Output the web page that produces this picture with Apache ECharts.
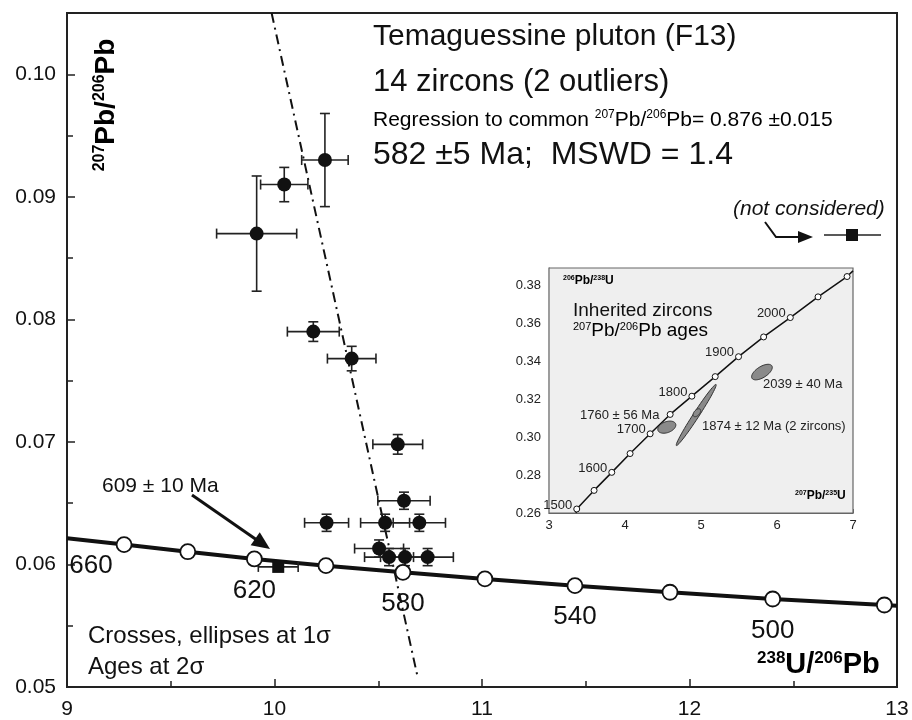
<!DOCTYPE html>
<html>
<head>
<meta charset="utf-8">
<script src="https://cdn.jsdelivr.net/npm/echarts@6/dist/echarts.min.js"></script>
<style>
  html, body { margin: 0; padding: 0; background: #fff; }
  #chart { width: 912px; height: 720px; }
</style>
</head>
<body>
<div id="chart"></div>
<script>
const FONT = '"Liberation Sans", Arial, Helvetica, sans-serif'
const INK = '#111'

// ---- main plot: 238U/206Pb vs 207Pb/206Pb (Tera-Wasserburg) ----
const zirconX    = [9.914, 10.047, 10.243, 10.187, 10.372, 10.594, 10.624, 10.251, 10.533, 10.698, 10.504, 10.552, 10.629, 10.738]
const zirconXErr = [0.193, 0.114, 0.112, 0.125, 0.117, 0.120, 0.126, 0.106, 0.118, 0.126, 0.118, 0.118, 0.118, 0.124]
const zirconY    = [0.0870, 0.0910, 0.0930, 0.0790, 0.0768, 0.0698, 0.0652, 0.0634, 0.0634, 0.0634, 0.0613, 0.0606, 0.0606, 0.0606]
const zirconYErr = [0.0047, 0.0014, 0.0038, 0.0008, 0.0010, 0.0008, 0.0007, 0.0007, 0.0007, 0.0007, 0.0007, 0.0007, 0.0007, 0.0007]

// the 609 ± 10 Ma grain (not considered)
const outlierX    = [10.018]
const outlierXErr = [0.096]
const outlierY    = [0.0598]

// concordia nodes (Ma) and where the curve meets the frame
const concordiaAges = [660, 640, 620, 600, 580, 560, 540, 520, 500, 480]
const concordiaX    = [9.275, 9.582, 9.903, 10.248, 10.619, 11.014, 11.448, 11.906, 12.401, 12.939]
const concordiaY    = [0.06162, 0.06104, 0.06045, 0.05990, 0.05936, 0.05882, 0.05827, 0.05773, 0.05718, 0.05669]
const concordiaEnds = [[9.0, 0.06214], [13.0, 0.05664]]
const labeledAges   = [660, 620, 580, 540, 500]

// regression to common Pb (dash-dot)
const regressionLine = [[9.986, 0.105], [10.69, 0.0508]]

// ---- inset: Wetherill concordia, inherited zircons ----
const insetAges  = [1500, 1550, 1600, 1650, 1700, 1750, 1800, 1850, 1900, 1950, 2000, 2050, 2100]
const insetX     = [3.365, 3.593, 3.826, 4.067, 4.331, 4.594, 4.880, 5.187, 5.494, 5.824, 6.175, 6.540, 6.922]
const insetY     = [0.2621, 0.2719, 0.2814, 0.2913, 0.3017, 0.3119, 0.3215, 0.3318, 0.3423, 0.3527, 0.3629, 0.3738, 0.3845]
const insetEnds  = [[3.356, 0.2600], [7.0, 0.3875]]
const insetLabeled = [1500, 1600, 1700, 1800, 1900, 2000]

// error ellipses: centre, 1-sigma x / y, correlation
const ellipseCx  = [4.55, 4.937, 4.946, 5.802]
const ellipseCy  = [0.3052, 0.3116, 0.3128, 0.3342]
const ellipseSx  = [0.119, 0.263, 0.05, 0.136]
const ellipseSy  = [0.0032, 0.0161, 0.0021, 0.0041]
const ellipseRho = [0.35, 0.985, 0.5, 0.6]

const chart = echarts.init(document.getElementById('chart'), null, { renderer: 'canvas' })

function errorBars(params, api) {
  const x = api.value(0), y = api.value(1), ex = api.value(2), ey = api.value(3)
  const c = api.coord([x, y])
  const l = api.coord([x - ex, y]), r = api.coord([x + ex, y])
  const cap = 5
  const style = { stroke: '#222', lineWidth: 1.6 }
  const kids = [
    { type: 'line', shape: { x1: l[0], y1: c[1], x2: r[0], y2: c[1] }, style },
    { type: 'line', shape: { x1: l[0], y1: c[1] - cap, x2: l[0], y2: c[1] + cap }, style },
    { type: 'line', shape: { x1: r[0], y1: c[1] - cap, x2: r[0], y2: c[1] + cap }, style },
  ]
  if (ey > 0) {
    const t = api.coord([x, y + ey]), b = api.coord([x, y - ey])
    kids.push(
      { type: 'line', shape: { x1: c[0], y1: t[1], x2: c[0], y2: b[1] }, style },
      { type: 'line', shape: { x1: c[0] - cap, y1: t[1], x2: c[0] + cap, y2: t[1] }, style },
      { type: 'line', shape: { x1: c[0] - cap, y1: b[1], x2: c[0] + cap, y2: b[1] }, style },
    )
  }
  return { type: 'group', children: kids }
}

function ellipse(params, api) {
  const cx = api.value(0), cy = api.value(1), sx = api.value(2), sy = api.value(3), rho = api.value(4)
  const pts = []
  for (let i = 0; i < 60; i++) {
    const t = i / 60 * Math.PI * 2
    pts.push(api.coord([cx + sx * Math.cos(t), cy + sy * (rho * Math.cos(t) + Math.sqrt(1 - rho * rho) * Math.sin(t))]))
  }
  return { type: 'polygon', shape: { points: pts }, style: { fill: '#8a8a8a', stroke: '#333', lineWidth: 1 } }
}

function arrow(x1, y1, x2, y2, width, head, half) {
  const len = Math.hypot(x2 - x1, y2 - y1)
  const ux = (x2 - x1) / len, uy = (y2 - y1) / len
  const bx = x2 - ux * head, by = y2 - uy * head
  return [
    { type: 'line', shape: { x1, y1, x2: bx + ux * 2, y2: by + uy * 2 }, style: { stroke: INK, lineWidth: width } },
    { type: 'polygon', shape: { points: [[x2, y2], [bx - uy * half, by + ux * half], [bx + uy * half, by - ux * half]] }, style: { fill: INK } },
  ]
}

const supRich = (big, small, weight) => ({
  b: { fontSize: big, fontWeight: weight, fontFamily: FONT, color: INK, verticalAlign: 'bottom', lineHeight: big },
  s: { fontSize: small, fontWeight: weight, fontFamily: FONT, color: INK, verticalAlign: 'top', lineHeight: small },
})

const tickLabel = { color: INK, fontSize: 21, fontFamily: FONT }

const option = {
  animation: false,
  backgroundColor: '#fff',
  grid: [
    { left: 67, top: 13, width: 830, height: 675, show: true, borderColor: '#222', borderWidth: 2, backgroundColor: 'transparent' },
    { left: 549, top: 268, width: 304, height: 245, show: true, borderColor: '#666', borderWidth: 1.2, backgroundColor: '#efefef', z: 1 },
  ],
  xAxis: [
    {
      gridIndex: 0, type: 'value', min: 9, max: 13, interval: 1,
      axisLine: { lineStyle: { color: '#222', width: 2 } },
      axisTick: { inside: true, length: 8, lineStyle: { color: '#222', width: 1.5 } },
      minorTick: { show: true, splitNumber: 2, length: 6, lineStyle: { color: '#222', width: 1.5 } },
      axisLabel: { ...tickLabel, margin: 12 },
      splitLine: { show: false },
    },
    {
      gridIndex: 1, type: 'value', min: 3, max: 7, interval: 1,
      axisLine: { lineStyle: { color: '#666', width: 1.2 } },
      axisTick: { inside: true, length: 4, lineStyle: { color: '#666' } },
      minorTick: { show: true, splitNumber: 2, length: 3, lineStyle: { color: '#666' } },
      axisLabel: { color: '#222', fontSize: 13, fontFamily: FONT, margin: 6 },
      splitLine: { show: false },
    },
  ],
  yAxis: [
    {
      gridIndex: 0, type: 'value', min: 0.05, max: 0.105, interval: 0.01,
      axisLine: { lineStyle: { color: '#222', width: 2 } },
      axisTick: { inside: true, length: 8, lineStyle: { color: '#222', width: 1.5 } },
      minorTick: { show: true, splitNumber: 2, length: 6, lineStyle: { color: '#222', width: 1.5 } },
      axisLabel: { ...tickLabel, margin: 11, showMaxLabel: false, formatter: v => v.toFixed(2) },
      splitLine: { show: false },
    },
    {
      gridIndex: 1, type: 'value', min: 0.26, max: 0.389, interval: 0.02,
      axisLine: { lineStyle: { color: '#666', width: 1.2 } },
      axisTick: { inside: true, length: 4, lineStyle: { color: '#666' } },
      minorTick: { show: true, splitNumber: 2, length: 3, lineStyle: { color: '#666' } },
      axisLabel: { color: '#222', fontSize: 13, fontFamily: FONT, margin: 8, showMaxLabel: false, formatter: v => v.toFixed(2) },
      splitLine: { show: false },
    },
  ],
  series: [
    {
      name: 'concordia', type: 'line', xAxisIndex: 0, yAxisIndex: 0, z: 2, silent: true,
      data: [concordiaEnds[0], ...concordiaX.map((x, i) => [x, concordiaY[i]]), concordiaEnds[1]],
      symbol: 'none', lineStyle: { color: INK, width: 4 },
    },
    {
      name: 'regression', type: 'line', xAxisIndex: 0, yAxisIndex: 0, z: 3, silent: true,
      data: regressionLine, symbol: 'none',
      lineStyle: { color: INK, width: 2, type: [10, 5, 2, 5] },
    },
    {
      name: 'errors', type: 'custom', xAxisIndex: 0, yAxisIndex: 0, z: 4, silent: true,
      renderItem: errorBars, encode: { x: 0, y: 1 },
      data: zirconX.map((x, i) => [x, zirconY[i], zirconXErr[i], zirconYErr[i]]),
    },
    {
      name: 'zircons', type: 'scatter', xAxisIndex: 0, yAxisIndex: 0, z: 5,
      data: zirconX.map((x, i) => [x, zirconY[i]]),
      symbol: 'circle', symbolSize: 14, itemStyle: { color: INK, opacity: 1 },
    },
    {
      name: 'outlier errors', type: 'custom', xAxisIndex: 0, yAxisIndex: 0, z: 4, silent: true,
      renderItem: errorBars, encode: { x: 0, y: 1 },
      data: outlierX.map((x, i) => [x, outlierY[i], outlierXErr[i], 0]),
    },
    {
      name: 'outlier', type: 'scatter', xAxisIndex: 0, yAxisIndex: 0, z: 5,
      data: outlierX.map((x, i) => [x, outlierY[i]]),
      symbol: 'rect', symbolSize: 12, itemStyle: { color: INK, opacity: 1 },
    },
    {
      name: 'concordia nodes', type: 'scatter', xAxisIndex: 0, yAxisIndex: 0, z: 6,
      data: concordiaX.map((x, i) => {
        const age = concordiaAges[i]
        const item = { value: [x, concordiaY[i]] }
        if (labeledAges.includes(age)) {
          item.label = {
            show: true, formatter: String(age), position: 'bottom', distance: 10,
            offset: age === 660 ? [-33, -10] : [0, 0],
            color: INK, fontSize: 26, fontFamily: FONT,
          }
        }
        return item
      }),
      symbol: 'circle', symbolSize: 15,
      itemStyle: { color: '#fff', borderColor: INK, borderWidth: 1.8, opacity: 1 },
    },
    // inset
    {
      name: 'inset concordia', type: 'line', xAxisIndex: 1, yAxisIndex: 1, z: 7, silent: true,
      data: [insetEnds[0], ...insetX.map((x, i) => [x, insetY[i]]), insetEnds[1]],
      symbol: 'none', lineStyle: { color: INK, width: 1.5 },
    },
    {
      name: 'inset ellipses', type: 'custom', xAxisIndex: 1, yAxisIndex: 1, z: 8, silent: true,
      renderItem: ellipse, encode: { x: 0, y: 1 },
      data: ellipseCx.map((x, i) => [x, ellipseCy[i], ellipseSx[i], ellipseSy[i], ellipseRho[i]]),
    },
    {
      name: 'inset nodes', type: 'scatter', xAxisIndex: 1, yAxisIndex: 1, z: 9,
      data: insetX.map((x, i) => {
        const age = insetAges[i]
        const item = { value: [x, insetY[i]] }
        if (insetLabeled.includes(age)) {
          item.label = {
            show: true, formatter: String(age), position: 'left', distance: 1, offset: [0, -4],
            color: '#222', fontSize: 13, fontFamily: FONT,
          }
        }
        return item
      }),
      symbol: 'circle', symbolSize: 6,
      itemStyle: { color: '#fff', borderColor: INK, borderWidth: 1, opacity: 1 },
    },
  ],
  graphic: [
    { type: 'text', left: 373, top: 22, style: { text: 'Temaguessine pluton (F13)', font: `30px ${FONT}`, fill: INK } },
    { type: 'text', left: 373, top: 67, style: { text: '14 zircons (2 outliers)', font: `31px ${FONT}`, fill: INK } },
    {
      type: 'text', left: 373, top: 109,
      style: {
        text: '{t|Regression to common }{s|207}{t|Pb/}{s|206}{t|Pb= 0.876 ±0.015}',
        rich: {
          t: { fontSize: 21, fontFamily: FONT, color: INK, verticalAlign: 'bottom', lineHeight: 22 },
          s: { fontSize: 12, fontFamily: FONT, color: INK, verticalAlign: 'top', lineHeight: 12 },
        },
      },
    },
    { type: 'text', left: 373, top: 139, style: { text: '582 ±5 Ma;  MSWD = 1.4', font: `32px ${FONT}`, fill: INK } },

    { type: 'text', left: 733, top: 199, style: { text: '(not considered)', font: `italic 21px ${FONT}`, fill: INK } },
    { type: 'polyline', shape: { points: [[765, 222], [776, 237], [800, 237]] }, style: { stroke: INK, lineWidth: 2, fill: null } },
    { type: 'polygon', shape: { points: [[813, 237], [798, 231], [798, 243]] }, style: { fill: INK } },
    { type: 'line', shape: { x1: 824, y1: 235, x2: 881, y2: 235 }, style: { stroke: '#222', lineWidth: 1.6 } },
    { type: 'rect', shape: { x: 846, y: 229, width: 12, height: 12 }, style: { fill: INK } },

    { type: 'text', left: 102, top: 476, style: { text: '609 ± 10 Ma', font: `21px ${FONT}`, fill: INK } },
    ...arrow(192, 495, 270, 549, 3, 18, 8),

    { type: 'text', left: 88, top: 624, style: { text: 'Crosses, ellipses at 1σ', font: `24px ${FONT}`, fill: INK } },
    { type: 'text', left: 88, top: 655, style: { text: 'Ages at 2σ', font: `24px ${FONT}`, fill: INK } },

    {
      type: 'text', x: 106, y: 105, rotation: Math.PI / 2,
      style: { text: '{s|207}{b|Pb/}{s|206}{b|Pb}', rich: supRich(28, 16, 'bold'), align: 'center', verticalAlign: 'middle' },
    },
    {
      type: 'text', left: 757, top: 650,
      style: { text: '{s|238}{b|U/}{s|206}{b|Pb}', rich: supRich(29, 17, 'bold') },
    },

    // inset annotations
    { type: 'text', left: 563, top: 275, z: 20, style: { text: '{s|206}{b|Pb/}{s|238}{b|U}', rich: supRich(12, 7, 'bold') } },
    { type: 'text', left: 795, top: 490, z: 20, style: { text: '{s|207}{b|Pb/}{s|235}{b|U}', rich: supRich(12, 7, 'bold') } },
    { type: 'text', left: 573, top: 301, z: 20, style: { text: 'Inherited zircons', font: `19px ${FONT}`, fill: INK } },
    {
      type: 'text', left: 573, top: 321, z: 20,
      style: { text: '{s|207}{b|Pb/}{s|206}{b|Pb ages}', rich: supRich(19, 11, 'normal') },
    },
    { type: 'text', left: 580, top: 409, z: 20, style: { text: '1760 ± 56 Ma', font: `13px ${FONT}`, fill: '#222' } },
    { type: 'text', left: 702, top: 420, z: 20, style: { text: '1874 ± 12 Ma (2 zircons)', font: `13px ${FONT}`, fill: '#222' } },
    { type: 'text', left: 763, top: 378, z: 20, style: { text: '2039 ± 40 Ma', font: `13px ${FONT}`, fill: '#222' } },
  ],
}

chart.setOption(option)
</script>
</body>
</html>
